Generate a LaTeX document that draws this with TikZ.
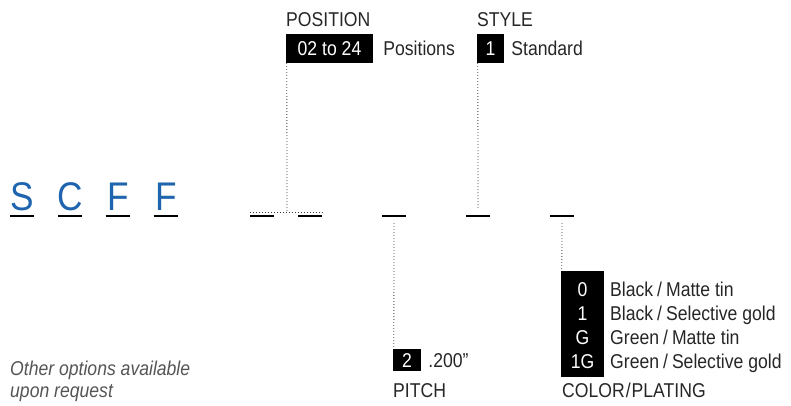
\documentclass[tikz,border=0pt]{standalone}
\usepackage{fontspec}
\setmainfont[FakeStretch=0.88]{Liberation Sans}
\usepackage{xcolor}
\usetikzlibrary{positioning,calc}

\definecolor{scfblue}{HTML}{1E64AF}
\definecolor{notegray}{HTML}{555555}

\begin{document}
\begin{tikzpicture}[
  x=1pt, y=1pt,
  letter/.style={font=\fontsize{40}{40}\selectfont, text=scfblue, anchor=base, inner sep=0pt},
  blank/.style={fill=black, minimum width=24pt, minimum height=2.4pt, inner sep=0pt},
  lbl/.style={font=\fontsize{20}{24}\selectfont, text=black!85, anchor=base west, inner sep=0pt},
  codebox/.style={fill=black, text=white, font=\fontsize{20}{24}\selectfont, inner sep=0pt, text height=14.5pt, text depth=0pt},
  code/.style={text=white, font=\fontsize{20}{24}\selectfont, anchor=base, inner sep=0pt},
  dots/.style={black!75, line width=0.8pt, dash pattern=on 0.8pt off 2.2pt}
]
\useasboundingbox (0,0) rectangle (791,405);

% part number letters
\node[letter] (S) at (22,195) {S};
\node[letter] (C) at (70,195) {C};
\node[letter] (F1) at (118,195) {F};
\node[letter] (F2) at (166,195) {F};
\node[blank] (ulS) at (22,189) {};
\node[blank] (ulC) at (70,189) {};
\node[blank] (ulF1) at (118,189) {};
\node[blank] (ulF2) at (166,189) {};

% blanks
\node[blank] (pos1) at (262,189) {};
\node[blank] (pos2) at (310,189) {};
\node[blank] (pitchbl) at (394,189) {};
\node[blank] (stylebl) at (478,189) {};
\node[blank] (colorbl) at (562,189) {};

% position
\node[lbl] (postitle) at (286,378) {POSITION};
\node[codebox, minimum width=87pt, minimum height=29pt] (posbox) at (329.5,356.5) {02 to 24};
\node[lbl] (poslbl) at ([xshift=10pt]posbox.base east) {Positions};

% style
\node[lbl] (styletitle) at (477,378) {STYLE};
\node[codebox, minimum width=27pt, minimum height=29pt] (stylebox) at (490.5,356.5) {1};
\node[lbl] (stylelbl) at ([xshift=7pt]stylebox.base east) {Standard};

% pitch
\node[codebox, minimum width=28pt, minimum height=22pt] (pitchbox) at (407,45) {2};
\node[lbl] (pitchlbl) at ([xshift=7pt]pitchbox.base east) {.200”};
\node[lbl] (pitchtitle) at (393,8) {PITCH};

% color / plating
\node[fill=black, minimum width=43pt, minimum height=106pt, inner sep=0pt] (colorbox) at (582.5,81) {};
\node[code] (c0) at (582.5,109) {0};
\node[code] (c1) at (582.5,85) {1};
\node[code] (cG) at (582.5,61) {G};
\node[code] (c1G) at (582.5,37) {1G};
\node[lbl] (c0lbl) at (610,109) {Black\kern4pt/\kern4ptMatte tin};
\node[lbl] (c1lbl) at (610,85) {Black\kern4pt/\kern4ptSelective gold};
\node[lbl] (cGlbl) at (610,61) {Green\kern4pt/\kern4ptMatte tin};
\node[lbl] (c1Glbl) at (610,37) {Green\kern4pt/\kern4ptSelective gold};
\node[lbl] (colortitle) at (562,8) {COLOR\kern1pt/\kern1ptPLATING};

% note
\node[lbl, text=notegray, font=\fontsize{20}{24}\selectfont\itshape] (note) at (10,30) {Other options available};
\node[lbl, text=notegray, font=\fontsize{20}{24}\selectfont\itshape] (note2) at (10,8) {upon request};

% leaders
\coordinate (posjoin) at (287,193);
\draw[dots] ([yshift=4pt]pos1.west) -- ([yshift=4pt]pos2.east);
\draw[dots] ([xshift=1pt]posbox.south west) -- (posjoin);
\draw[dots] ([xshift=1pt]stylebox.south west) -- ([yshift=7pt]stylebl.center);
\draw[dots] ([yshift=-7pt]pitchbl.center) -- ([xshift=1pt]pitchbox.north west);
\draw[dots] ([yshift=-7pt]colorbl.center) -- ([xshift=1pt]colorbox.north west);
\end{tikzpicture}
\end{document}
